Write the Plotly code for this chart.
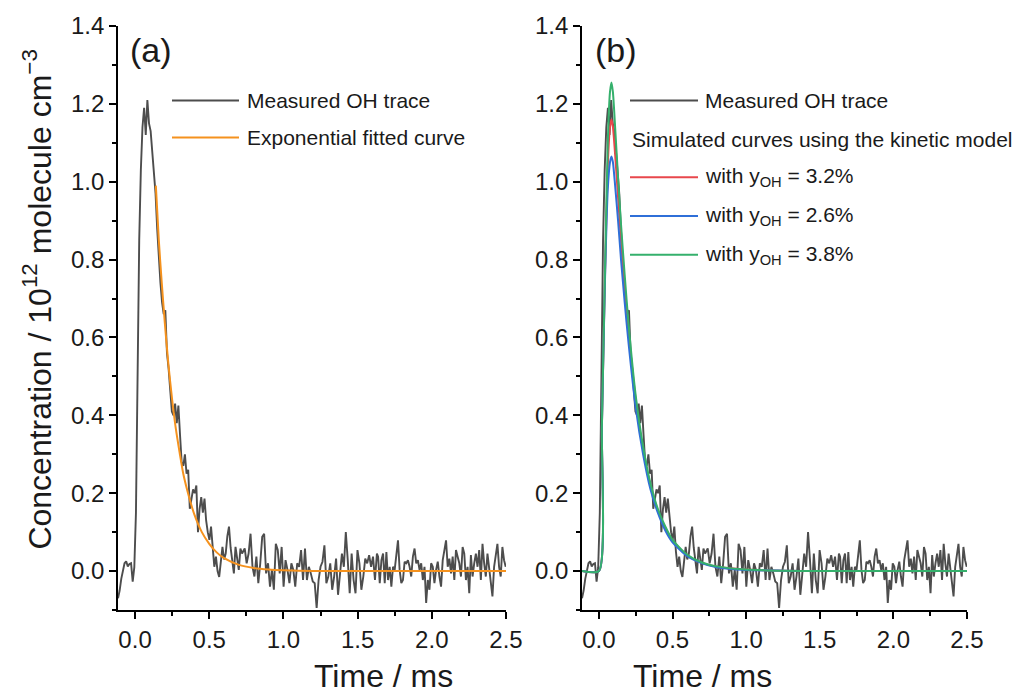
import numpy as np
import plotly.graph_objects as go

# measured OH trace (same data in both panels) in three stretches
meas_early = [-0.07, -0.05, -0.02, 0.00, 0.02, 0.025, 0.012, 0.018, 0.02, -0.027, 0.01,
              0.15, 0.52, 0.85, 1.03, 1.14, 1.19, 1.12, 1.21, 1.15, 1.13, 1.08, 1.02, 0.97,
              0.88, 0.80, 0.74, 0.69, 0.66, 0.67, 0.56, 0.52, 0.45, 0.41,
              0.40, 0.43, 0.38, 0.425, 0.35, 0.28, 0.27, 0.30, 0.25, 0.26,
              0.16, 0.19, 0.21, 0.20, 0.22, 0.10, 0.16, 0.19, 0.15, 0.186,
              0.13, 0.10, 0.08, 0.114, 0.05, 0.011, 0.037, 0.00, -0.015, 0.03,
              0.062, 0.03, 0.045, 0.09, 0.114, 0.06, 0.02, -0.006, 0.062, 0.03,
              0.003, 0.058, 0.045]
meas_mid = [0.058, 0.02, 0.045, 0.096, 0.011, -0.014, 0.037, -0.031, 0.02, 0.088,
            0.096, -0.006, 0.02, -0.04, 0.003, -0.048, 0.07, 0.054, -0.006, 0.062,
            -0.04, 0.028, 0.003, -0.031, 0.02, 0.003, -0.04, 0.02, 0.011, 0.054,
            -0.023, 0.058, -0.023, 0.011, -0.006, -0.027, -0.031, -0.095, -0.023, 0.011,
            0.024, 0.066, -0.031, -0.014, 0.02, -0.048, -0.014, 0.032, -0.061, 0.003,
            0.045, 0.011, 0.10, 0.028, -0.057, 0.045, -0.023, -0.057, 0.054, 0.02,
            -0.048, -0.014, 0.032, 0.02, 0.041, 0.011, 0.037, -0.023, 0.045]
meas_late = [0.037, -0.031, 0.028, 0.045, -0.031, 0.049, -0.023, 0.011, -0.04, 0.011,
             0.003, 0.037, 0.079, 0.003, -0.031, -0.023, 0.024, 0.02, 0.028, 0.011,
             -0.014, 0.037, 0.058, 0.02, 0.028, 0.003, 0.02, -0.023, 0.011, -0.082,
             -0.023, -0.048, 0.02, 0.011, -0.031, 0.003, 0.024, -0.014, -0.04, 0.028,
             0.054, 0.079, 0.011, 0.032, -0.006, 0.037, -0.023, 0.054, 0.037, 0.02,
             -0.014, 0.062, 0.045, -0.023, 0.011, -0.057, 0.041, -0.014, 0.02, 0.045,
             0.011, 0.054, -0.023, 0.07, 0.02, -0.014, 0.045, 0.011, -0.031, -0.065,
             0.011, 0.037, 0.07, 0.011, -0.014, 0.062, 0.028, 0.011]

t_meas = np.concatenate([np.linspace(-0.115, 0.721, len(meas_early)),
                         np.linspace(0.739, 1.63, len(meas_mid)),
                         np.linspace(1.638, 2.498, len(meas_late))])
oh_meas = np.array(meas_early + meas_mid + meas_late)

# exponential fitted curve, panel (a)
t_fit = [0.14, 0.16, 0.18, 0.20, 0.225, 0.25, 0.275, 0.30, 0.325, 0.35, 0.375, 0.40,
         0.45, 0.50, 0.55, 0.60, 0.70, 0.80, 0.90, 1.0, 1.2, 1.5, 2.0, 2.5]
oh_fit = [0.99, 0.85, 0.74, 0.64, 0.53, 0.44, 0.365, 0.305, 0.25, 0.21, 0.175, 0.145,
          0.10, 0.07, 0.048, 0.033, 0.016, 0.008, 0.004, 0.002, 0.0, 0.0, 0.0, 0.0]

# kinetic model curves, panel (b)
t_sim = [-0.115, 0.0, 0.02, 0.04, 0.06, 0.075, 0.085, 0.095, 0.11, 0.13, 0.15, 0.175,
         0.20, 0.25, 0.30, 0.35, 0.40, 0.45, 0.50, 0.60, 0.70, 0.80, 1.0, 1.25, 1.5, 2.0, 2.5]
sim_32 = [0, 0, 0.37, 0.74, 1.04, 1.14, 1.16, 1.14, 1.07, 0.96, 0.85, 0.73,
          0.62, 0.44, 0.31, 0.22, 0.155, 0.11, 0.078, 0.04, 0.021, 0.011, 0.004, 0.001, 0, 0, 0]
sim_26 = [0, 0, 0.37, 0.73, 0.98, 1.05, 1.065, 1.05, 0.99, 0.90, 0.80, 0.69,
          0.59, 0.42, 0.30, 0.21, 0.15, 0.105, 0.074, 0.038, 0.02, 0.01, 0.003, 0.001, 0, 0, 0]
sim_38 = [0, 0, 0.37, 0.75, 1.10, 1.23, 1.255, 1.23, 1.14, 1.01, 0.89, 0.76,
          0.64, 0.45, 0.32, 0.225, 0.16, 0.115, 0.08, 0.042, 0.022, 0.012, 0.004, 0.001, 0, 0, 0]

GREY = "#4d4d4d"
ORANGE = "#f5921e"
RED = "#e8474c"
BLUE = "#2f6fd8"
GREEN = "#35b06c"
FONT = "Liberation Sans, Arial, sans-serif"

fig = go.Figure()
fig.add_trace(go.Scatter(x=t_meas, y=oh_meas, mode="lines", line=dict(color=GREY, width=1.9),
                         xaxis="x", yaxis="y"))
fig.add_trace(go.Scatter(x=t_fit, y=oh_fit, mode="lines",
                         line=dict(color=ORANGE, width=2, shape="spline", smoothing=0.8),
                         xaxis="x", yaxis="y"))
fig.add_trace(go.Scatter(x=t_meas, y=oh_meas, mode="lines", line=dict(color=GREY, width=1.9),
                         xaxis="x2", yaxis="y2"))
for vals, col in [(sim_32, RED), (sim_26, BLUE), (sim_38, GREEN)]:
    fig.add_trace(go.Scatter(x=t_sim, y=vals, mode="lines",
                             line=dict(color=col, width=2, shape="spline", smoothing=0.6),
                             xaxis="x2", yaxis="y2"))

L, R, T, B, W, H = 118, 62, 23, 85, 1029, 695
PW, PH = W - L - R, H - T - B


def px(x):
    return (x - L) / PW


def py(y):
    return (H - B - y) / PH


xax = dict(range=[-0.115, 2.5], showline=True, linecolor="black", linewidth=1.7,
           ticks="outside", ticklen=7, tickwidth=1.7, tickcolor="black",
           dtick=0.5, tick0=0, tickformat=".1f", showgrid=False, zeroline=False,
           minor=dict(ticks="outside", ticklen=4, tickwidth=1.5, tickcolor="black", dtick=0.25),
           tickfont=dict(family=FONT, size=24, color="#1a1a1a"))
yax = dict(range=[-0.1, 1.4], showline=True, linecolor="black", linewidth=1.7,
           ticks="outside", ticklen=7, tickwidth=1.7, tickcolor="black",
           dtick=0.2, tick0=0, tickformat=".1f", showgrid=False, zeroline=False,
           minor=dict(ticks="outside", ticklen=4, tickwidth=1.5, tickcolor="black", dtick=0.1),
           tickfont=dict(family=FONT, size=24, color="#1a1a1a"))

fig.update_layout(
    width=W, height=H, showlegend=False,
    margin=dict(l=L, r=R, t=T, b=B),
    plot_bgcolor="white", paper_bgcolor="white",
    xaxis=dict(xax, domain=[0, px(506)], anchor="y"),
    yaxis=dict(yax, anchor="x"),
    xaxis2=dict(xax, domain=[px(582), 1], anchor="y2"),
    yaxis2=dict(yax, anchor="x2"),
)

ann = [
    dict(x=px(15), y=py(298), text="Concentration / 10<sup>12</sup> molecule cm<sup>\u22123</sup>",
         textangle=-90, font=dict(size=32)),
    dict(x=px(312), y=py(676), text="Time / ms", font=dict(size=32)),
    dict(x=px(774), y=py(676), text="Time / ms", font=dict(size=32)),
    dict(x=px(128), y=py(47), text="(a)", xanchor="left", font=dict(size=34)),
    dict(x=px(593), y=py(47), text="(b)", xanchor="left", font=dict(size=34)),
    dict(x=px(245), y=py(98), text="Measured OH trace", xanchor="left"),
    dict(x=px(245), y=py(135), text="Exponential fitted curve", xanchor="left"),
    dict(x=px(703), y=py(98), text="Measured OH trace", xanchor="left"),
    dict(x=px(630), y=py(137), text="Simulated curves using the kinetic model", xanchor="left"),
    dict(x=px(703), y=py(175), text="with y<sub>OH</sub> = 3.2%", xanchor="left"),
    dict(x=px(703), y=py(214), text="with y<sub>OH</sub> = 2.6%", xanchor="left"),
    dict(x=px(703), y=py(253), text="with y<sub>OH</sub> = 3.8%", xanchor="left"),
]
for a in ann:
    a.setdefault("font", dict(size=21))
    a["font"] = dict(a["font"], family=FONT, color="#1a1a1a")
    fig.add_annotation(xref="paper", yref="paper", showarrow=False, yanchor="middle", **a)

legend_lines = [(172, 239, 98, GREY), (172, 239, 135, ORANGE),
                (630, 698, 98, GREY), (630, 698, 175, RED),
                (630, 698, 214, BLUE), (630, 698, 253, GREEN)]
for x0, x1, y0, col in legend_lines:
    fig.add_shape(type="line", xref="paper", yref="paper", x0=px(x0), x1=px(x1),
                  y0=py(y0), y1=py(y0), line=dict(color=col, width=2))

fig.write_html("out.html", config={"displayModeBar": False},
               post_script="document.body.style.margin='0';")
